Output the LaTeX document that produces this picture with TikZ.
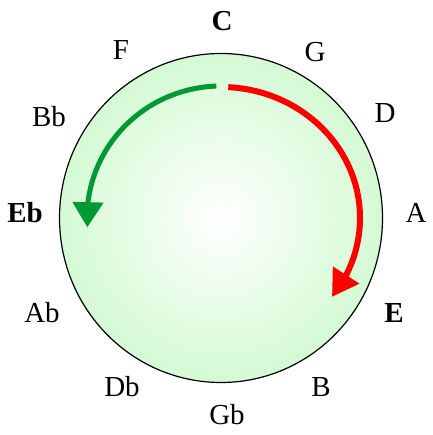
\documentclass[tikz,border=0pt]{standalone}
\usepackage{fontspec}
\setmainfont{Liberation Serif}
\usetikzlibrary{arrows.meta,bending,calc}
\definecolor{edgegreen}{RGB}{212,250,212}
\definecolor{arrowred}{RGB}{255,0,0}
\definecolor{arrowgreen}{RGB}{0,153,51}
\begin{document}
\begin{tikzpicture}[x=1pt,y=1pt,
  note/.style={anchor=base,inner sep=0pt,font=\fontsize{29}{32}\selectfont},
  keynote/.style={note,font=\fontsize{29}{32}\selectfont\bfseries},
  redarrow/.style={draw=arrowred,line width=6pt,-{Triangle[length=26pt,width=30pt]}},
  greenarrow/.style={draw=arrowgreen,line width=5pt,-{Triangle[length=25pt,width=30pt]}}]
\useasboundingbox (0,0) rectangle (432,435);
\coordinate (ctr) at (221,217);
\shade[inner color=white,outer color=edgegreen,draw=black,line width=1.2pt]
  (ctr) ellipse[x radius=161.5,y radius=164.5];
% labels
\node[keynote] (C) at (222,404) {C};
\node[note] (G) at (315,373) {G};
\node[note] (D) at (385,312) {D};
\node[note] (A) at (416,212) {A};
\node[keynote] (E) at (394,112) {E};
\node[note] (B) at (321,38) {B};
\node[note] (Gb) at (227,10) {Gb};
\node[note] (Db) at (122,38) {Db};
\node[note] (Ab) at (42,112) {Ab};
\node[keynote] (Eb) at (25,212) {Eb};
\node[note] (Bb) at (49,308) {Bb};
\node[note] (F) at (121,375) {F};
% arrows
\coordinate (rs) at ($(ctr)+(87:139 and 131)$);
\coordinate (gs) at ($(ctr)+(92:134 and 132)$);
\draw[redarrow] (rs) arc[start angle=87,end angle=-37,x radius=139,y radius=131];
\draw[greenarrow] (gs) arc[start angle=92,end angle=184,x radius=134,y radius=132];
\end{tikzpicture}
\end{document}
